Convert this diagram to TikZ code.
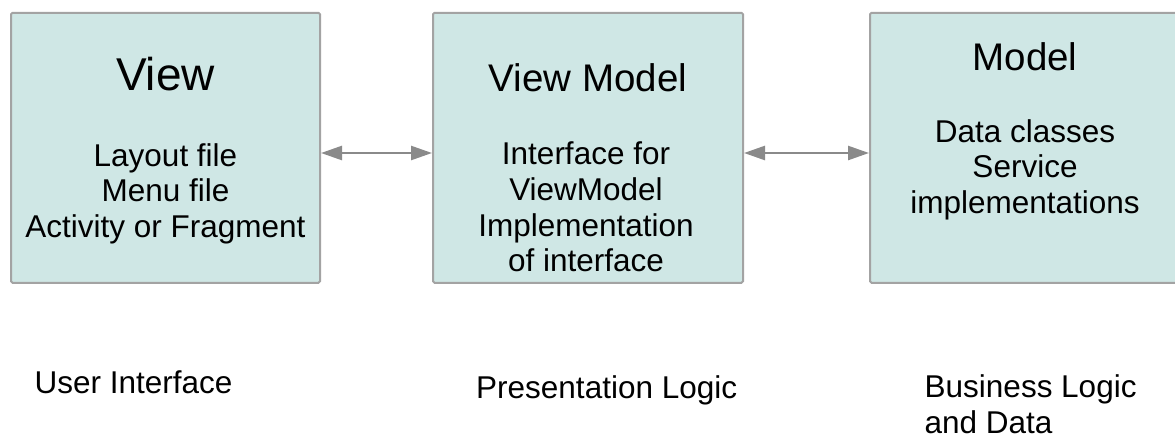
\documentclass[tikz,border=0pt]{standalone}
\usepackage{fontspec}
\setmainfont{Liberation Sans}
\usetikzlibrary{arrows.meta}

\definecolor{boxfill}{HTML}{CFE7E5}
\definecolor{boxline}{HTML}{A3A3A3}
\definecolor{arrowgray}{HTML}{8A8A8A}

\tikzset{
  layer/.style={draw=boxline, fill=boxfill, line width=2pt, rounded corners=1.5pt,
    minimum height=270pt, inner sep=0pt},
  bigtitle/.style={anchor=base, inner sep=0pt, font=\fontsize{46}{52}\selectfont},
  midtitle/.style={anchor=base, inner sep=0pt, font=\fontsize{38.5}{44}\selectfont},
  % multi-line nodes: the base anchor sits on the last line
  bodytext/.style={anchor=base, inner sep=0pt, align=center,
    font=\fontsize{31.5}{35.6}\selectfont},
  caption/.style={anchor=base west, inner sep=0pt, align=left,
    font=\fontsize{31.5}{36}\selectfont},
  link/.style={draw=arrowgray, line width=2.5pt,
    {Triangle[length=21pt,width=14pt]}-{Triangle[length=21pt,width=14pt]}}
}

\begin{document}
\begin{tikzpicture}[x=1pt, y=-1pt]
  \useasboundingbox (0,0) rectangle (1175,437);
  \clip (0,0) rectangle (1175,437);

  % the three layers
  \node[layer, minimum width=309pt] (view)  at (165.5,147.8) {};
  \node[layer, minimum width=310pt] (vm)    at (588,147.8)   {};
  \node[layer, minimum width=310pt] (model) at (1025,147.8)  {};

  % layer titles
  \node[bigtitle] (viewtitle)  at (165.5,90)  {View};
  \node[midtitle] (vmtitle)    at (588,91.5)  {View Model};
  \node[midtitle] (modeltitle) at (1025,70.5) {Model};

  % layer contents
  \node[bodytext] (viewbody)  at (165.5,237.3) {Layout file\\Menu file\\Activity or Fragment};
  \node[bodytext] (vmbody)    at (586,271.7)   {Interface for\\ViewModel\\Implementation\\of interface};
  \node[bodytext] (modelbody) at (1025,213.3)  {Data classes\\Service\\implementations};

  % two-way links between the layers
  \draw[link] ([yshift=-5.2pt]view.east) -- ([yshift=-5.2pt]vm.west);
  \draw[link] ([yshift=-5.2pt]vm.east) -- ([yshift=-5.2pt]model.west);

  % captions under the layers
  \node[caption] (ui)   at (34.5,393.3)  {User Interface};
  \node[caption] (pres) at (476,398.3)   {Presentation Logic};
  \node[caption] (biz)  at (924.5,433.3) {Business Logic\\and Data};
\end{tikzpicture}
\end{document}
